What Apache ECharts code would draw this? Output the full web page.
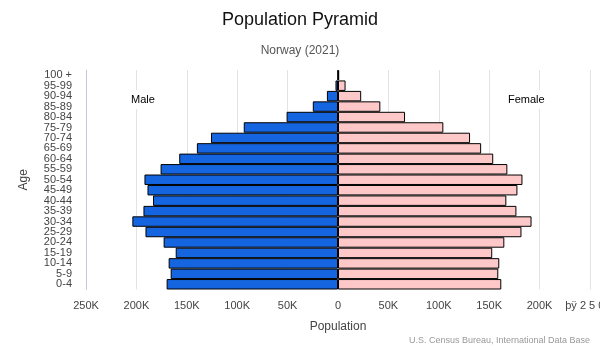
<!DOCTYPE html>
<html>
<head>
<meta charset="utf-8">
<script src="https://cdn.jsdelivr.net/npm/echarts@6/dist/echarts.min.js"></script>
<style>html,body{margin:0;padding:0;background:#fff}#c{width:600px;height:350px}</style>
</head>
<body>
<div id="c"></div>
<script>
const ageGroups = ['0-4','5-9','10-14','15-19','20-24','25-29','30-34','35-39','40-44','45-49','50-54','55-59','60-64','65-69','70-74','75-79','80-84','85-89','90-94','95-99','100 +'];
const maleValues = [170000,166000,168000,161000,173000,191000,204000,193000,183500,189000,192000,176000,157500,140000,126000,93500,51000,25000,11000,2500,300];
const femaleValues = [162000,159000,160000,153000,165000,182000,192000,177000,167000,178000,183000,168000,154000,142000,131000,104500,66500,42000,23000,7500,1200];
const xTicks = {'-250000':'250K','-200000':'200K','-150000':'150K','-100000':'100K','-50000':'50K','0':'0','50000':'50K','100000':'100K','150000':'150K','200000':'200K','250000':'þÿ 2 5 0 K'};

const font = 'Liberation Sans, Arial, sans-serif';
const chart = echarts.init(document.getElementById('c'), null, {renderer:'canvas'});
chart.setOption({
  animation:false,
  backgroundColor:'#fff',
  textStyle:{fontFamily:font},
  title:[
    {text:'Population Pyramid', left:'center', top:6, textStyle:{fontSize:18, fontWeight:'normal', color:'#111', fontFamily:font}},
    {text:'Norway (2021)', left:'center', top:40, textStyle:{fontSize:12, fontWeight:'normal', color:'#555', fontFamily:font}}
  ],
  grid:{left:86, right:10, top:70, bottom:60.5, containLabel:false, outerBoundsMode:'none'},
  xAxis:{
    type:'value', min:-250000, max:250000, interval:50000,
    name:'Population', nameLocation:'middle', nameGap:31,
    nameTextStyle:{fontSize:12, color:'#444', fontFamily:font},
    axisLine:{show:false}, axisTick:{show:false},
    axisLabel:{color:'#444', fontSize:11, margin:11, fontFamily:font, formatter:v=>xTicks[String(v)]},
    splitLine:{show:true, lineStyle:{color:'#e3e3e3', width:1}}
  },
  yAxis:{
    type:'category', data:ageGroups,
    name:'Age', nameLocation:'middle', nameGap:56, nameRotate:90,
    nameTextStyle:{fontSize:12, color:'#444', fontFamily:font},
    axisLine:{show:true, onZero:false, lineStyle:{color:'#c5c8da', width:1}},
    axisTick:{show:false},
    axisLabel:{interval:0, color:'#444', fontSize:11, margin:14, fontFamily:font, lineHeight:11}
  },
  series:[
    {name:'Male', type:'bar', stack:'pop', barCategoryGap:0,
     data:maleValues.map(v=>-v),
     itemStyle:{color:'#1565e0', borderColor:'#000', borderWidth:1}},
    {name:'Female', type:'bar', stack:'pop', barCategoryGap:0,
     data:femaleValues,
     itemStyle:{color:'#ffc8c8', borderColor:'#000', borderWidth:1}}
  ],
  graphic:[
    {type:'text', left:129, top:90, z:100, style:{text:'Male', fontSize:11, fill:'#000', fontFamily:font, backgroundColor:'#fff', padding:[4,2,4,2]}},
    {type:'text', left:506, top:90, z:100, style:{text:'Female', fontSize:11, fill:'#000', fontFamily:font, backgroundColor:'#fff', padding:[4,2,4,2]}},
    {type:'text', right:10, top:336, style:{text:'U.S. Census Bureau, International Data Base', fontSize:9, fill:'#999', fontFamily:font}}
  ]
});
</script>
</body>
</html>
